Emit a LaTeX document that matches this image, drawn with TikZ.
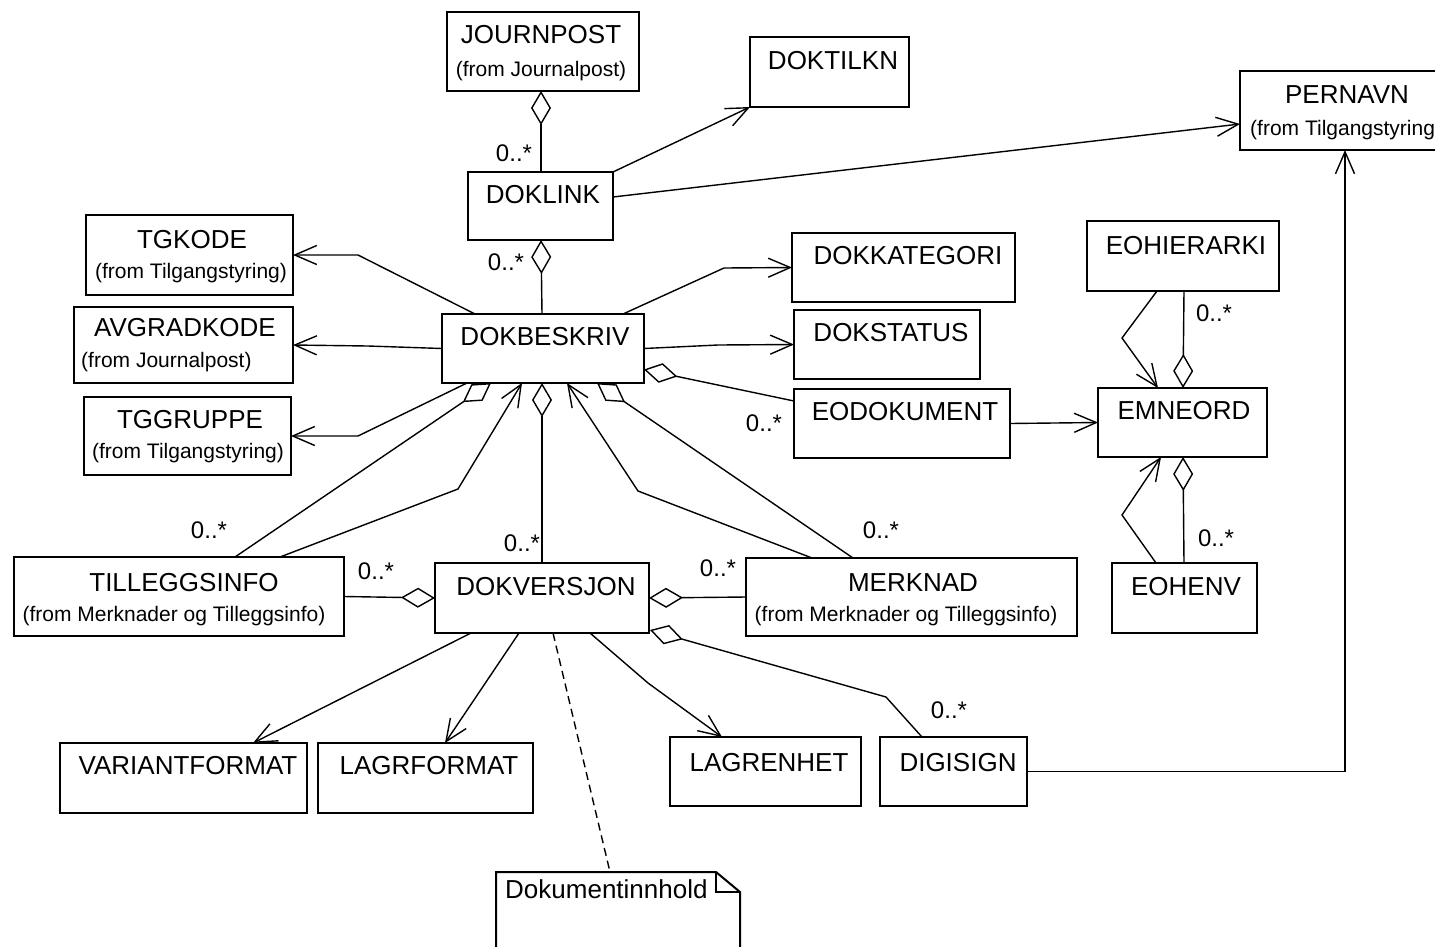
\documentclass[tikz,border=0pt]{standalone}
\usepackage{fontspec}
\setmainfont{Liberation Sans}
\usetikzlibrary{arrows.meta,calc}
\tikzset{
  cls/.style={draw, line width=2pt, anchor=north west, inner sep=0pt, outer sep=0pt},
  nm/.style={font=\fontsize{26}{28}\selectfont, inner sep=0pt},
  sub/.style={font=\fontsize{21}{24}\selectfont, inner sep=0pt},
  mult/.style={font=\fontsize{24}{26}\selectfont, inner sep=0pt},
  conn/.style={line width=1.4pt, line join=miter},
  nav/.style={conn, -{Straight Barb[length=22pt,width=19pt]}},
  agg/.style={conn, -{Diamond[open,length=34pt,width=20pt]}},
  dep/.style={conn, dash pattern=on 8pt off 5pt},
}
\newcommand{\umlbox}[5]{\node[cls, minimum width={(#4-#2)*1pt}, minimum height={(#5-#3)*1pt}] (#1) at (#2,#3) {};}
\begin{document}
\begin{tikzpicture}[x=1pt,y=-1pt]
\useasboundingbox (0,0) rectangle (1435,946);
% boxes
\umlbox{journpost}{447}{12}{639}{91}
\umlbox{doktilkn}{750}{37}{909}{107}
\umlbox{doklink}{468}{172}{613}{240}
\umlbox{pernavn}{1240}{71}{1453}{150}
\umlbox{tgkode}{86}{215}{293}{295}
\umlbox{avgradkode}{74}{307}{293}{383}
\umlbox{tggruppe}{84}{397}{291}{475}
\umlbox{dokbeskriv}{442}{314}{644}{383}
\umlbox{dokkategori}{792}{233}{1015}{302}
\umlbox{dokstatus}{794}{310}{980}{379}
\umlbox{eodokument}{794}{389}{1010}{458}
\umlbox{eohierarki}{1087}{221}{1279}{291}
\umlbox{emneord}{1098}{388}{1267}{457}
\umlbox{eohenv}{1112}{563}{1257}{633}
\umlbox{tilleggsinfo}{14}{557}{344}{636}
\umlbox{dokversjon}{435}{563}{649}{633}
\umlbox{merknad}{746}{558}{1077}{636}
\umlbox{variantformat}{60}{743}{307}{813}
\umlbox{lagrformat}{318}{743}{533}{813}
\umlbox{lagrenhet}{670}{737}{861}{806}
\umlbox{digisign}{880}{737}{1027}{806}
% note
\node[anchor=north west, inner sep=0pt, outer sep=0pt, minimum width=244pt, minimum height=90pt] (note) at (496,872) {};
\draw[line width=2pt] (note.south west) -- (note.north west) -- ($(note.north east)+(-24,0)$) -- ($(note.north east)+(0,20)$) -- (note.south east);
\draw[line width=2pt] ($(note.north east)+(-24,0)$) -- ++(0,20) -- ++(24,0);
\node[nm, anchor=west] (note-t) at (505,889) {Dokumentinnhold};
% names
\node[nm] (journpost-n) at (541,35) {JOURNPOST};
\node[sub] (journpost-s) at (541,71) {(from Journalpost)};
\node[nm] (doktilkn-n) at (833,61) {DOKTILKN};
\node[nm] (doklink-n) at (543,195) {DOKLINK};
\node[nm] (pernavn-n) at (1347,95) {PERNAVN};
\node[sub, anchor=west] (pernavn-s) at (1250,130) {(from Tilgangstyring)};
\node[nm] (tgkode-n) at (192,240) {TGKODE};
\node[sub] (tgkode-s) at (191,273) {(from Tilgangstyring)};
\node[nm] (avgradkode-n) at (185,328) {AVGRADKODE};
\node[sub, anchor=west] (avgradkode-s) at (81,362) {(from Journalpost)};
\node[nm] (tggruppe-n) at (190,420) {TGGRUPPE};
\node[sub] (tggruppe-s) at (188,453) {(from Tilgangstyring)};
\node[nm] (dokbeskriv-n) at (545,337) {DOKBESKRIV};
\node[nm] (dokkategori-n) at (908,256) {DOKKATEGORI};
\node[nm] (dokstatus-n) at (891,333) {DOKSTATUS};
\node[nm] (eodokument-n) at (905,412) {EODOKUMENT};
\node[nm] (eohierarki-n) at (1186,246) {EOHIERARKI};
\node[nm] (emneord-n) at (1184,411) {EMNEORD};
\node[nm] (eohenv-n) at (1186,587) {EOHENV};
\node[nm] (tilleggsinfo-n) at (184,583) {TILLEGGSINFO};
\node[sub] (tilleggsinfo-s) at (174,616) {(from Merknader og Tilleggsinfo)};
\node[nm] (dokversjon-n) at (546,587) {DOKVERSJON};
\node[nm] (merknad-n) at (913,583) {MERKNAD};
\node[sub] (merknad-s) at (906,616) {(from Merknader og Tilleggsinfo)};
\node[nm] (variantformat-n) at (188,766) {VARIANTFORMAT};
\node[nm] (lagrformat-n) at (429,766) {LAGRFORMAT};
\node[nm] (lagrenhet-n) at (769,763) {LAGRENHET};
\node[nm] (digisign-n) at (958,763) {DIGISIGN};
% multiplicities
\node[mult] (m1) at (514,153) {0..*};
\node[mult] (m2) at (506,262) {0..*};
\node[mult] (m3) at (764,423) {0..*};
\node[mult] (m4) at (1214,313) {0..*};
\node[mult] (m5) at (1216,538) {0..*};
\node[mult] (m6) at (209,530) {0..*};
\node[mult] (m7) at (522,543) {0..*};
\node[mult] (m8) at (376,571) {0..*};
\node[mult] (m9) at (718,568) {0..*};
\node[mult] (m10) at (881,530) {0..*};
\node[mult] (m11) at (949,710) {0..*};
% connectors
\draw[agg] ($(doklink.north west)+(73,0)$) -- ($(journpost.south west)+(94,0)$);
\draw[nav] (doklink.north east) -- (doktilkn.south west);
\draw[nav] ($(doklink.east)+(0,-9)$) -- ($(pernavn.west)+(0,13.5)$);
\draw[agg] ($(dokbeskriv.north west)+(100,0)$) -- ($(doklink.south west)+(73,0)$);
\draw[nav] ($(dokbeskriv.north west)+(33,0)$) -- (358,255) -- (tgkode.east);
\draw[nav] (dokbeskriv.west) -- (368,346) -- (avgradkode.east);
\draw[nav] ($(dokbeskriv.south west)+(25,0)$) -- (358,436) -- (tggruppe.east);
\draw[agg] ($(tilleggsinfo.north west)+(221,0)$) -- ($(dokbeskriv.south west)+(49,0)$);
\draw[nav] ($(tilleggsinfo.north west)+(266,0)$) -- (458,489) -- ($(dokbeskriv.south west)+(80,0)$);
\draw[agg] ($(dokversjon.north west)+(107,0)$) -- ($(dokbeskriv.south west)+(100,0)$);
\draw[nav] ($(merknad.north west)+(66,0)$) -- (638,491) -- ($(dokbeskriv.south west)+(125,0)$);
\draw[agg] ($(merknad.north west)+(107,0)$) -- ($(dokbeskriv.south west)+(155,0)$);
\draw[nav] ($(dokbeskriv.north west)+(181,0)$) -- (724,268) -- (dokkategori.west);
\draw[nav] (dokbeskriv.east) -- (718,345) -- (dokstatus.west);
\draw[agg] ($(eodokument.west)+(0,-22.5)$) -- ($(dokbeskriv.east)+(0,21)$);
\draw[nav] (eodokument.east) -- (emneord.west);
\draw[nav] ($(eohierarki.south west)+(70,0)$) -- (1122,338) -- ($(emneord.north west)+(60,0)$);
\draw[agg] ($(eohierarki.south west)+(97,0)$) -- ($(emneord.north west)+(85,0)$);
\draw[nav] ($(eohenv.north west)+(44,0)$) -- (1122,515) -- ($(emneord.south west)+(63,0)$);
\draw[agg] ($(eohenv.north west)+(72,0)$) -- ($(emneord.south west)+(85,0)$);
\draw[agg] (tilleggsinfo.east) -- (dokversjon.west);
\draw[agg] (merknad.west) -- (dokversjon.east);
\draw[agg] ($(digisign.north west)+(42,0)$) -- (886,697) -- ($(dokversjon.south east)+(1,-3)$);
\draw[nav] ($(dokversjon.south west)+(36,0)$) -- ($(variantformat.north west)+(193,0)$);
\draw[nav] ($(dokversjon.south west)+(84,0)$) -- ($(lagrformat.north west)+(127,0)$);
\draw[nav] ($(dokversjon.south west)+(155,0)$) -- (648,683) -- ($(lagrenhet.north west)+(52,0)$);
\draw[dep] ($(dokversjon.south west)+(118,0)$) -- ($(note.north west)+(114,0)$);
\draw[nav] (digisign.east) -| ($(pernavn.south west)+(105,0)$);
\end{tikzpicture}
\end{document}
